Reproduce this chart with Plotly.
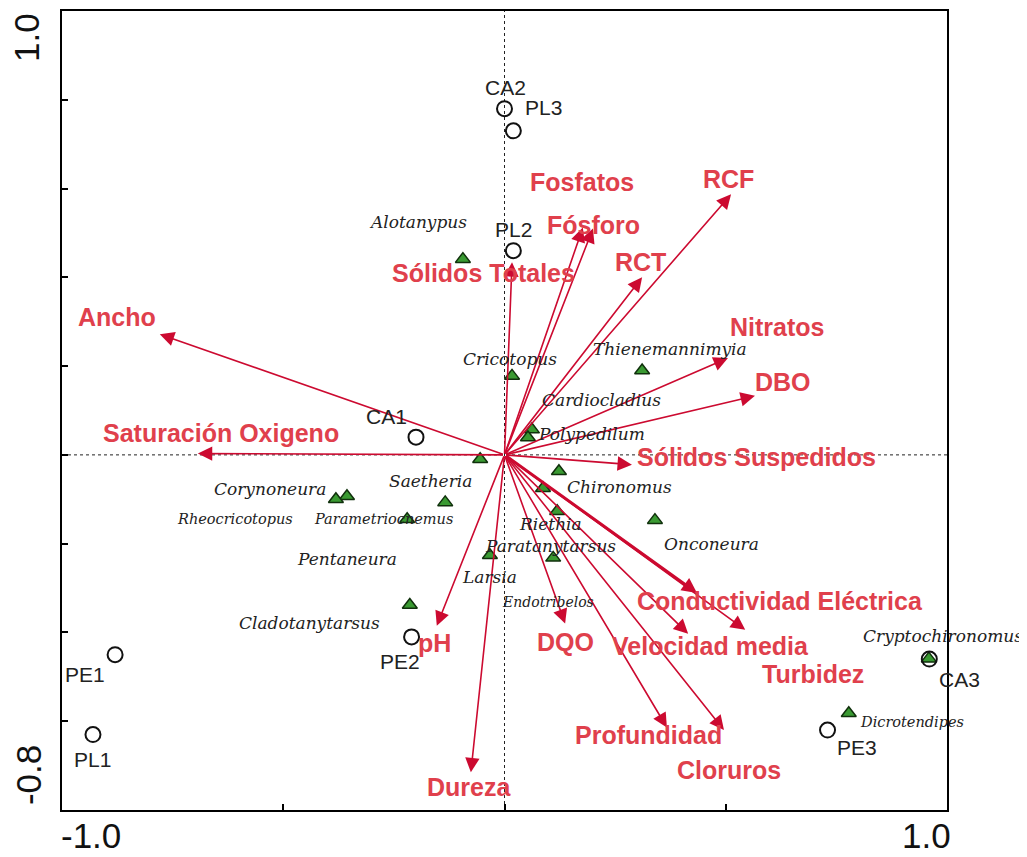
import plotly.graph_objects as go

# ---------------- data ----------------
site_names = ["CA2", "PL3", "PL2", "CA1", "PE1", "PL1", "PE2", "PE3", "CA3"]
site_x = [0.00, 0.02, 0.02, -0.20, -0.88, -0.93, -0.21, 0.73, 0.96]
site_y = [0.78, 0.73, 0.46, 0.04, -0.45, -0.63, -0.41, -0.62, -0.46]

species_names = ["Alotanypus", "Cricotopus", "Thienemannimyia", "Cardiocladius",
                 "Polypedilum", "Saetheria", "Chironomus", "Endotribelos", "Riethia",
                 "Paratanytarsus", "Larsia", "Onconeura", "Pentaneura", "Corynoneura",
                 "Rheocricotopus", "Parametriocnemus", "Cladotanytarsus",
                 "Cryptochironomus", "Dicrotendipes"]
species_x = [-0.094, 0.017, 0.311, 0.062, 0.053, -0.055, 0.123, 0.087, 0.119,
             0.110, -0.033, 0.340, -0.134, -0.356, -0.381, -0.220, -0.214, 0.959, 0.778]
species_y = [0.441, 0.178, 0.190, 0.057, 0.039, -0.010, -0.037, -0.075, -0.127,
             -0.232, -0.226, -0.147, -0.107, -0.093, -0.100, -0.145, -0.338, -0.459, -0.582]

env_names = ["Ancho", "Saturación Oxigeno", "Sólidos Totales", "Fosfatos", "Fósforo",
             "RCT", "RCF", "Nitratos", "DBO", "Sólidos Suspedidos",
             "Conductividad Eléctrica", "Velocidad media", "Turbidez", "Profundidad",
             "Cloruros", "DQO", "pH", "Dureza"]
env_x = [-0.779, -0.693, 0.017, 0.177, 0.200, 0.311, 0.512, 0.505, 0.566, 0.288,
         0.435, 0.415, 0.544, 0.367, 0.496, 0.137, -0.153, -0.076]
env_y = [0.272, 0.003, 0.434, 0.512, 0.510, 0.400, 0.587, 0.218, 0.133, -0.022,
         -0.311, -0.403, -0.394, -0.614, -0.620, -0.380, -0.385, -0.715]

x_tick_labels = ["-1.0", "1.0"]
y_tick_labels = ["1.0", "-0.8"]

# ---------------- styling (label offsets in pixels: dx right, dy down) ----------------
site_off = [(1, -21), (30, -23), (0, -21), (-30, -21), (-30, 20), (0, 25), (-12, 25),
            (29, 17), (30, 20)]
species_off = [(-45, -37), (-2, -17), (28, -22), (70, -30), (64, -4), (-50, 22), (61, 16),
               (5, 114), (-7, 13), (-3, -12), (0, 22), (57, 24), (-98, 57), (-77, -7),
               (-101, 20), (-24, 0), (-100, 18), (14, -23), (63, 9)]
species_fs = [17, 17, 17, 17, 17, 17, 17, 14, 17, 17, 17, 17, 17, 17, 14.5, 14.5, 17, 17, 14.5]
env_off = [(-43, -17), (23, -21), (-29, 11), (-1, -46), (0, -4), (-2, -15), (-3, -15),
           (49, -31), (28, -14), (125, -8), (83, 8), (22, 12), (68, 44), (-18, 8),
           (5, 40), (0, 18), (-2, 17), (-2, 15)]

ARROW = "#cc0a30"
LABEL_RED = "#e0404c"
PAGE = 8                      # default body margin of the html page
W, H = 1027 - PAGE, 857 - PAGE
L, R, T, B = 62 - PAGE, 947 - PAGE, 8 - PAGE + 1, 810 - PAGE


def px(xp):
    return (xp - PAGE - L) / (R - L)


def py(yp):
    return (B - (yp - PAGE)) / (B - T)


fig = go.Figure()

fig.add_trace(go.Scatter(
    x=species_x, y=species_y, mode="markers",
    marker=dict(symbol="triangle-up", size=13, color="#3a9a32",
                line=dict(color="#10300c", width=1.5)),
    hoverinfo="text", text=species_names, showlegend=False))

fig.add_trace(go.Scatter(
    x=site_x, y=site_y, mode="markers",
    marker=dict(symbol="circle-open", size=15, color="#111111", line=dict(width=2)),
    hoverinfo="text", text=site_names, showlegend=False))

ann = []
# arrows
for i, n in enumerate(env_names):
    thick = (i == 10)
    ann.append(dict(x=env_x[i], y=env_y[i], ax=0, ay=0, xref="x", yref="y",
                    axref="x", ayref="y", showarrow=True, arrowhead=2,
                    arrowsize=1.0 if thick else 1.8,
                    arrowwidth=3.0 if thick else 1.6,
                    arrowcolor=ARROW, text=""))
# env labels
for i, n in enumerate(env_names):
    dx, dy = env_off[i]
    ann.append(dict(x=env_x[i], y=env_y[i], xref="x", yref="y", showarrow=False,
                    text="<b>" + n + "</b>", xshift=dx, yshift=-dy,
                    xanchor="center", yanchor="middle",
                    font=dict(family="Liberation Sans, Arial", size=25, color=LABEL_RED)))
# site labels
for i, n in enumerate(site_names):
    dx, dy = site_off[i]
    ann.append(dict(x=site_x[i], y=site_y[i], xref="x", yref="y", showarrow=False,
                    text=n, xshift=dx, yshift=-dy, xanchor="center", yanchor="middle",
                    font=dict(family="Liberation Sans, Arial", size=21, color="#222222")))
# species labels
for i, n in enumerate(species_names):
    dx, dy = species_off[i]
    ann.append(dict(x=species_x[i], y=species_y[i], xref="x", yref="y", showarrow=False,
                    text="<i>" + n + "</i>", xshift=dx, yshift=-dy,
                    xanchor="center", yanchor="middle",
                    font=dict(family="DejaVu Serif", size=species_fs[i], color="#222222")))
# tick labels
tick_font = dict(family="Liberation Sans, Arial", size=35, color="#111")
ann.append(dict(x=px(91), y=py(836), xref="paper", yref="paper", showarrow=False,
                xanchor="center", yanchor="middle", text=x_tick_labels[0], font=tick_font))
ann.append(dict(x=px(926), y=py(836), xref="paper", yref="paper", showarrow=False,
                xanchor="center", yanchor="middle", text=x_tick_labels[1], font=tick_font))
ann.append(dict(x=px(27), y=py(36), xref="paper", yref="paper", showarrow=False, textangle=-90,
                xanchor="center", yanchor="middle", text=y_tick_labels[0], font=tick_font))
ann.append(dict(x=px(28), y=py(775), xref="paper", yref="paper", showarrow=False, textangle=-90,
                xanchor="center", yanchor="middle", text=y_tick_labels[1], font=tick_font))

shapes = [
    dict(type="line", xref="x", yref="y", x0=0, x1=0, y0=-0.8, y1=1.0,
         line=dict(color="#222", width=1, dash="3px,3px"), layer="below"),
    dict(type="line", xref="x", yref="y", x0=-1.0, x1=1.0, y0=0, y1=0,
         line=dict(color="#222", width=1, dash="3px,3px"), layer="below"),
]

axis_common = dict(showgrid=False, zeroline=False, showticklabels=False,
                   showline=True, mirror=True, linecolor="black", linewidth=2,
                   ticks="inside", ticklen=6, tickwidth=1.5, tickcolor="black")

fig.update_layout(
    width=W, height=H,
    margin=dict(l=L, r=W - R, t=T, b=H - B, pad=0),
    plot_bgcolor="white", paper_bgcolor="white",
    xaxis=dict(range=[-1.0, 1.0], tickvals=[-1.0, -0.5, 0, 0.5, 1.0], **axis_common),
    yaxis=dict(range=[-0.8, 1.0], tickvals=[-0.8, -0.6, -0.4, -0.2, 0, 0.2, 0.4, 0.6, 0.8, 1.0],
               **axis_common),
    annotations=ann, shapes=shapes, showlegend=False,
)

fig.write_html("out.html")
